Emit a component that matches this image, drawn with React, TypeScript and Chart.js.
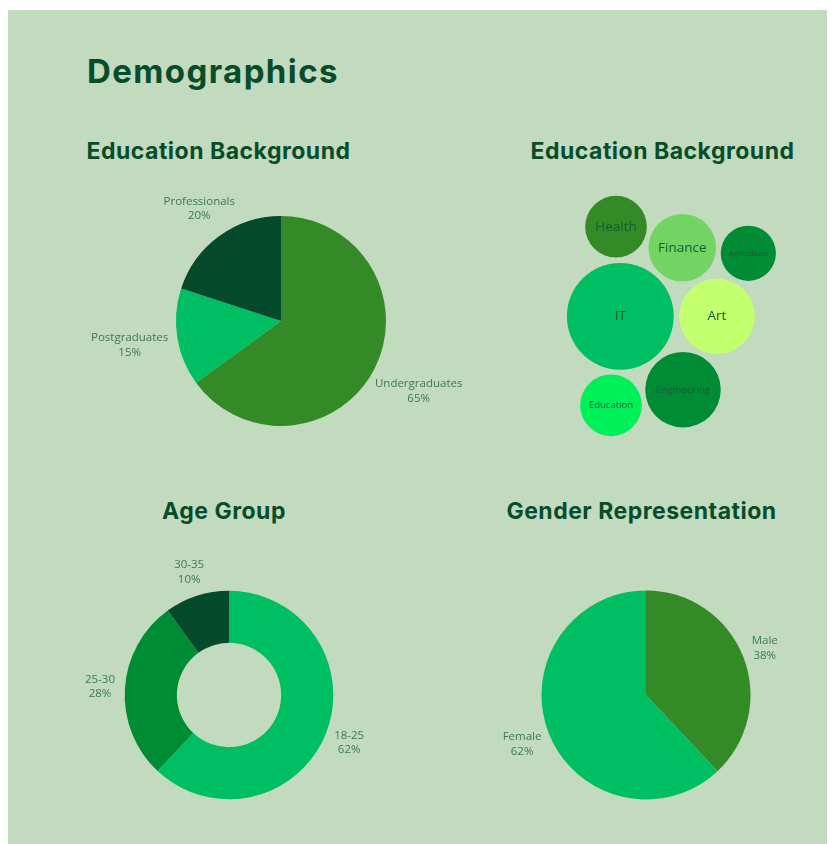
import React, { useEffect, useRef } from "react";
import { Chart, registerables } from "chart.js";

Chart.register(...registerables);

// ---------- data ----------
const eduLabels = ["Undergraduates", "Postgraduates", "Professionals"];
const eduValues = [65, 15, 20];
const eduColors = ["#338a26", "#00bf63", "#064a2c"];

const fieldLabels = ["Health", "Finance", "Agriculture", "IT", "Art", "Engineering", "Education"];
const fieldValues = [10, 12, 8, 30, 15, 15, 10];
const fieldX = [-6.9, -0.27, 6.33, -6.47, 3.2, -0.2, -7.4];
const fieldY = [8.83, 6.73, 6.17, -0.13, -0.13, -7.47, -9.03];
const fieldColors = ["#338a26", "#72d463", "#008c34", "#00bf63", "#c4ff70", "#008c34", "#00f05a"];

const ageLabels = ["18-25", "25-30", "30-35"];
const ageValues = [62, 28, 10];
const ageColors = ["#00bf63", "#008c34", "#064a2c"];

const genderLabels = ["Male", "Female"];
const genderValues = [38, 62];
const genderColors = ["#338a26", "#00bf63"];

// ---------- style ----------
const BG = "#c2dabd";
const TITLE = "#074d2b";
const LABEL = "#3b7a50";
const BUBBLE_TEXT = "#135d33";
const LABEL_FONT = "'Open Sans', 'Noto Sans', sans-serif";
const TITLE_FONT = "Inter, 'Noto Sans', sans-serif";

const outsideLabels = {
  id: "outsideLabels",
  afterDatasetsDraw(chart: any) {
    const { ctx } = chart;
    const meta = chart.getDatasetMeta(0);
    const data = chart.data.datasets[0].data as number[];
    const labels = chart.data.labels as string[];
    const lh = 14.5;
    const offset = 10;
    ctx.save();
    ctx.font = `11.5px ${LABEL_FONT}`;
    ctx.fillStyle = LABEL;
    ctx.textAlign = "center";
    ctx.textBaseline = "middle";
    meta.data.forEach((arc: any, i: number) => {
      const { x, y, startAngle, endAngle, outerRadius } = arc.getProps(
        ["x", "y", "startAngle", "endAngle", "outerRadius"],
        true
      );
      const mid = (startAngle + endAngle) / 2;
      const lines = [labels[i], data[i] + "%"];
      const w = Math.max(...lines.map((l) => ctx.measureText(l).width));
      const h = lines.length * lh;
      const c = Math.cos(mid);
      const s = Math.sin(mid);
      const ext = Math.sqrt(Math.pow((c * w) / 2, 2) + Math.pow((s * h) / 2, 2));
      const d = outerRadius + offset + ext;
      const cx = x + c * d;
      const cy = y + s * d;
      lines.forEach((l, j) => ctx.fillText(l, cx, cy - h / 2 + lh / 2 + j * lh));
    });
    ctx.restore();
  },
};

const bubbleLabels = {
  id: "bubbleLabels",
  afterDatasetsDraw(chart: any) {
    const { ctx } = chart;
    const meta = chart.getDatasetMeta(0);
    const labels = chart.data.labels as string[];
    ctx.save();
    ctx.fillStyle = BUBBLE_TEXT;
    ctx.textAlign = "center";
    ctx.textBaseline = "middle";
    meta.data.forEach((pt: any, i: number) => {
      const r = (chart.data.datasets[0].data[i] as any).r;
      const maxSize = 13.5;
      ctx.font = `${maxSize}px ${LABEL_FONT}`;
      const w = ctx.measureText(labels[i]).width;
      const fit = (1.44 * r) / w;
      const size = Math.min(maxSize, maxSize * fit);
      ctx.font = `${size}px ${LABEL_FONT}`;
      ctx.fillText(labels[i], pt.x, pt.y);
    });
    ctx.restore();
  },
};

type PieProps = {
  labels: string[];
  values: number[];
  colors: string[];
  left: number;
  top: number;
  width: number;
  height: number;
  radius: number;
  cutout?: string;
  type: "pie" | "doughnut";
};

function PieBox(p: PieProps) {
  const ref = useRef<HTMLCanvasElement>(null);
  useEffect(() => {
    const padX = (p.width - 2 * p.radius) / 2;
    const padY = (p.height - 2 * p.radius) / 2;
    const chart = new Chart(ref.current!, {
      type: p.type,
      data: {
        labels: p.labels,
        datasets: [
          {
            data: p.values,
            backgroundColor: p.colors,
            borderWidth: 0,
            hoverOffset: 0,
            offset: 0,
          } as any,
        ],
      },
      options: {
        responsive: false,
        animation: false,
        devicePixelRatio: 1,
        cutout: p.cutout ?? 0,
        layout: { padding: { left: padX, right: padX, top: padY, bottom: padY } },
        plugins: { legend: { display: false }, tooltip: { enabled: false } },
      } as any,
      plugins: [outsideLabels],
    });
    return () => chart.destroy();
  }, []);
  return (
    <canvas
      ref={ref}
      width={p.width}
      height={p.height}
      style={{ position: "absolute", left: p.left, top: p.top, width: p.width, height: p.height }}
    />
  );
}

function BubbleBox() {
  const ref = useRef<HTMLCanvasElement>(null);
  useEffect(() => {
    const chart = new Chart(ref.current!, {
      type: "bubble",
      data: {
        labels: fieldLabels,
        datasets: [
          {
            data: fieldValues.map((v, i) => ({ x: fieldX[i], y: fieldY[i], r: 9.75 * Math.sqrt(v) })),
            backgroundColor: fieldColors,
            borderWidth: 0,
            hoverRadius: 0,
            hoverBorderWidth: 0,
            clip: false,
          } as any,
        ],
      },
      options: {
        responsive: false,
        animation: false,
        devicePixelRatio: 1,
        layout: { padding: 0, autoPadding: false },
        scales: {
          x: { display: false, min: -13, max: 13 },
          y: { display: false, min: -13, max: 13 },
        },
        plugins: { legend: { display: false }, tooltip: { enabled: false } },
      } as any,
      plugins: [bubbleLabels],
    });
    return () => chart.destroy();
  }, []);
  return (
    <canvas
      ref={ref}
      width={260}
      height={260}
      style={{ position: "absolute", left: 547, top: 175, width: 260, height: 260 }}
    />
  );
}

function Title(props: { text: string; cx: number; top: number; size: number }) {
  return (
    <div
      style={{
        position: "absolute",
        left: props.cx - 250,
        width: 500,
        top: props.top,
        textAlign: "center",
        fontFamily: TITLE_FONT,
        fontWeight: 700,
        fontSize: props.size,
        lineHeight: props.size + "px",
        letterSpacing: "0.5px",
        color: TITLE,
        whiteSpace: "nowrap",
      }}
    >
      {props.text}
    </div>
  );
}

export default function App() {
  return (
    <div
      style={{
        position: "absolute",
        left: 8,
        top: 10,
        width: 819,
        height: 834,
        background: BG,
        overflow: "hidden",
      }}
    >
      <div
        style={{
          position: "absolute",
          left: 79,
          top: 44.8,
          fontFamily: TITLE_FONT,
          fontWeight: 700,
          fontSize: 33,
          lineHeight: "33px",
          letterSpacing: "1.4px",
          color: TITLE,
          whiteSpace: "nowrap",
        }}
      >
        Demographics
      </div>
      <Title text="Education Background" cx={210.5} top={130} size={23} />
      <Title text="Education Background" cx={654.5} top={130} size={23} />
      <Title text="Age Group" cx={216} top={490} size={23} />
      <Title text="Gender Representation" cx={633.5} top={490} size={23} />

      <PieBox
        type="pie"
        labels={eduLabels}
        values={eduValues}
        colors={eduColors}
        left={63}
        top={161}
        width={420}
        height={300}
        radius={105}
      />
      <BubbleBox />
      <PieBox
        type="doughnut"
        labels={ageLabels}
        values={ageValues}
        colors={ageColors}
        cutout="50%"
        left={10.8}
        top={534.5}
        width={420}
        height={300}
        radius={104.3}
      />
      <PieBox
        type="pie"
        labels={genderLabels}
        values={genderValues}
        colors={genderColors}
        left={458.2}
        top={534.7}
        width={360}
        height={300}
        radius={104.5}
      />
    </div>
  );
}
